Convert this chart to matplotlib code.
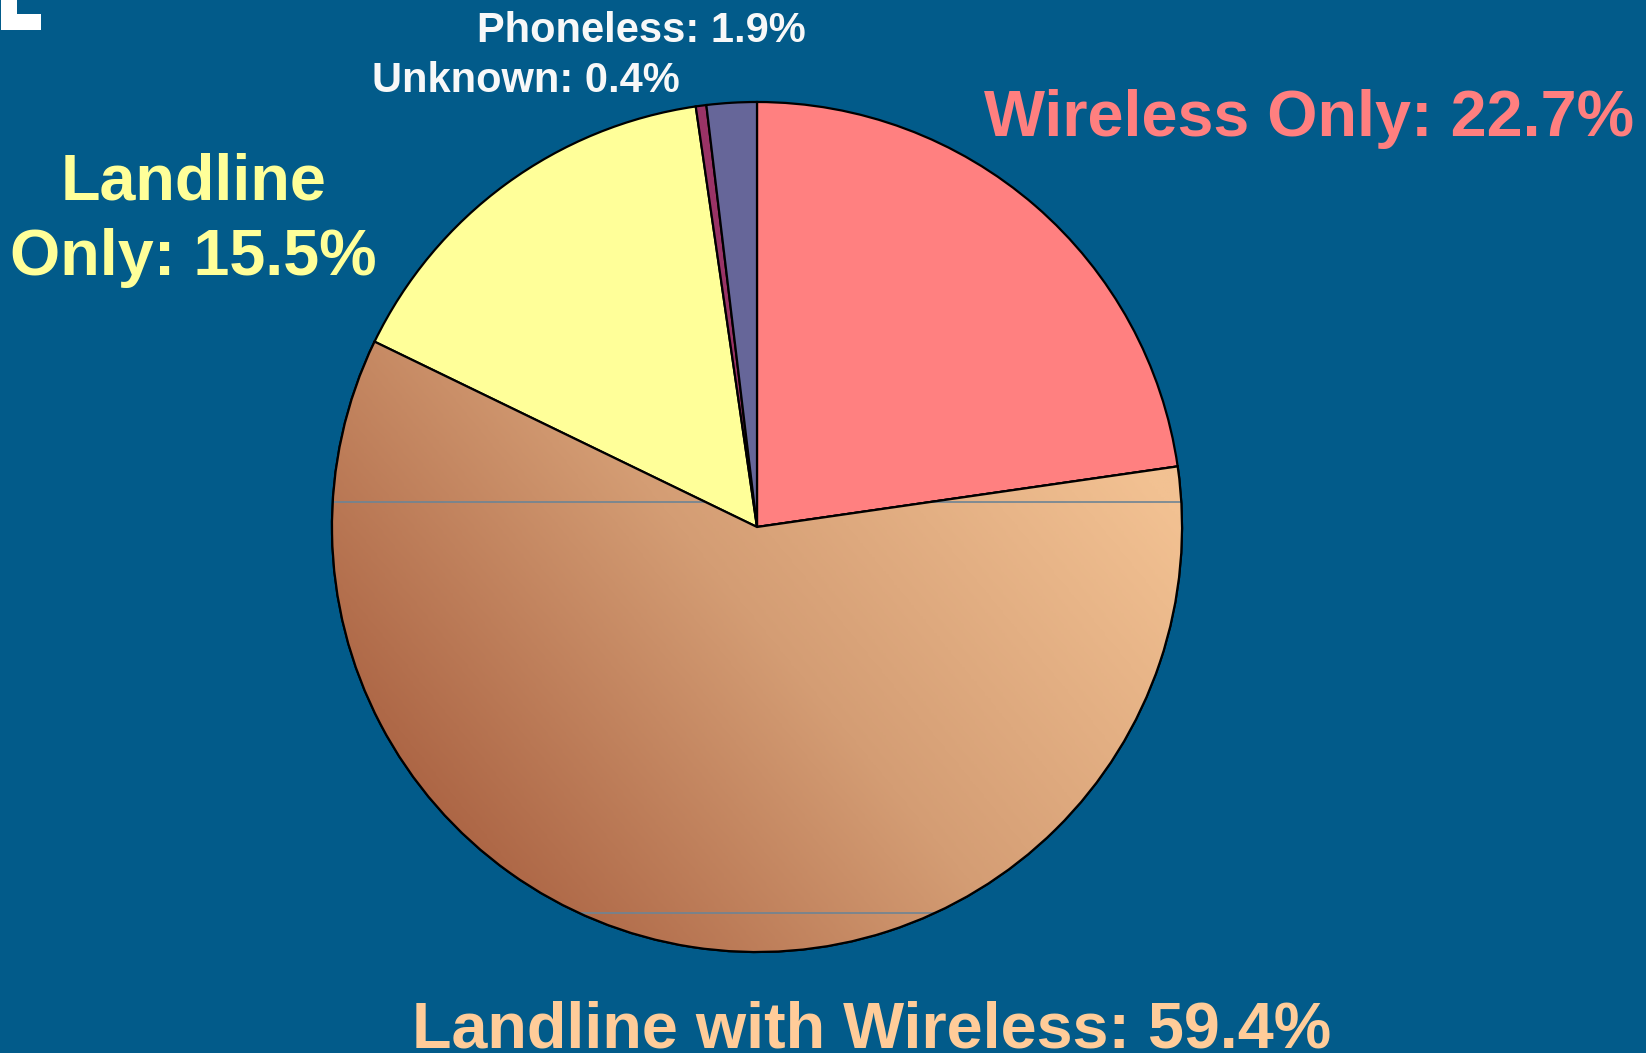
import numpy as np
import matplotlib.pyplot as plt
from matplotlib.patches import Polygon, Wedge
from matplotlib.colors import LinearSegmentedColormap

# phone status shares, clockwise from 12 o'clock
labels = ['Wireless Only', 'Landline with Wireless', 'Landline Only', 'Unknown', 'Phoneless']
shares = [22.7, 59.4, 15.5, 0.4, 1.9]
colors = ['#FF8080', '#E0A880', '#FFFF99', '#993366', '#666699']

W, H = 1646, 1053
cx, cy, r = 757, H - 527, 425
bg = '#025B8A'

fig = plt.figure(figsize=(W / 100, H / 100), dpi=100)
fig.patch.set_facecolor(bg)
ax = fig.add_axes([0, 0, 1, 1])
ax.set_xlim(0, W)
ax.set_ylim(0, H)
ax.set_aspect('equal')
ax.axis('off')

wedges, _ = ax.pie(shares, colors=colors, startangle=90, counterclock=False,
                   center=(cx, cy), radius=r, normalize=True,
                   wedgeprops=dict(edgecolor='black', linewidth=1.6))
ax.set_xlim(0, W)
ax.set_ylim(0, H)

# shaded fill for the big slice, light top-right to dark bottom-left
big = wedges[1]
cmap = LinearSegmentedColormap.from_list('tan', ['#AA6242', '#D49D74', '#F2C192'])
gx, gy = np.meshgrid(np.linspace(0, 1, 300), np.linspace(0, 1, 300))
grad = np.clip((gx * 0.55 + gy * 0.45 - 0.12) / 0.66, 0, 1)
im = ax.imshow(grad, cmap=cmap, origin='lower', extent=(cx - r, cx + r, cy - r, cy + r),
               zorder=3, interpolation='bilinear', vmin=0, vmax=1)
im.set_clip_path(big)

# faint scan lines across the big slice
for yy in (H - 502, H - 913):
    half = np.sqrt(r ** 2 - (yy - cy) ** 2)
    ln, = ax.plot([cx - half, cx + half], [yy, yy], color='#6E8494', linewidth=1.2, zorder=3.5)
    ln.set_clip_path(big)

ax.add_patch(Wedge((cx, cy), r, big.theta1, big.theta2, fill=False,
                   edgecolor='black', linewidth=1.6, zorder=4))

font = ['Liberation Sans', 'DejaVu Sans']
ax.text(1309, H - 136, 'Wireless Only: 22.7%', color='#FF7F7F', fontsize=46.5,
        fontweight='bold', family=font, ha='center', va='baseline')
ax.text(872, H - 1047, 'Landline with Wireless: 59.4%', color='#FFCC99', fontsize=46.5,
        fontweight='bold', family=font, ha='center', va='baseline')
ax.text(194, H - 200, 'Landline', color='#FFFF99', fontsize=46.5,
        fontweight='bold', family=font, ha='center', va='baseline')
ax.text(193, H - 275, 'Only: 15.5%', color='#FFFF99', fontsize=46.5,
        fontweight='bold', family=font, ha='center', va='baseline')
ax.text(641, H - 42, 'Phoneless: 1.9%', color='#F8F8F8', fontsize=30,
        fontweight='bold', family=font, ha='center', va='baseline')
ax.text(526, H - 92, 'Unknown: 0.4%', color='#F8F8F8', fontsize=30,
        fontweight='bold', family=font, ha='center', va='baseline')

# small white corner mark
ax.add_patch(Polygon([(1, H), (17, H), (17, H - 14), (41, H - 14), (41, H - 30), (1, H - 30)],
                     closed=True, facecolor='white', edgecolor='none'))

fig.savefig('out.png', dpi=100, facecolor=bg)
